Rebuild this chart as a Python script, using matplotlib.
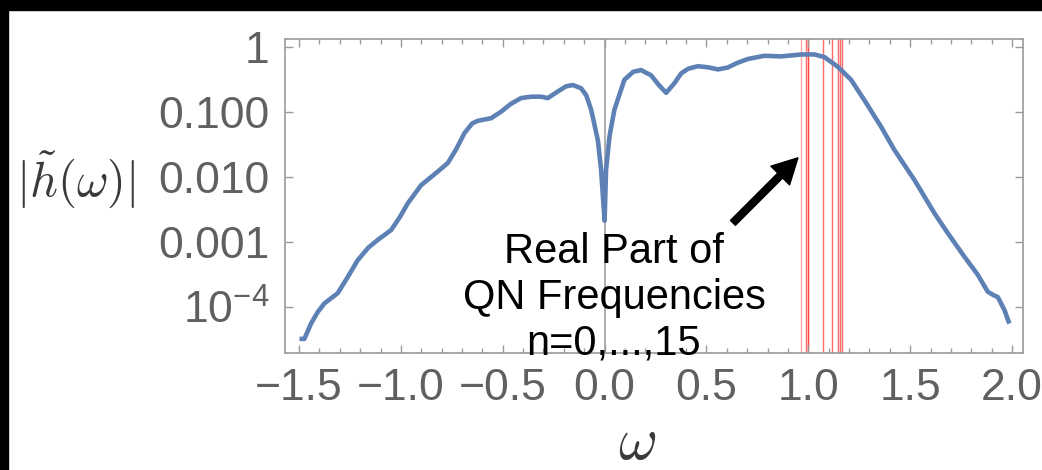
import matplotlib
matplotlib.use("Agg")
import matplotlib.pyplot as plt
from matplotlib.patches import Rectangle
from matplotlib.ticker import FixedLocator, FuncFormatter, MultipleLocator, LogLocator
import numpy as np

# spectrum |h(w)| sampled along the curve
omega = [-1.498, -1.474, -1.440, -1.408, -1.376, -1.310, -1.260, -1.212, -1.160, -1.113,
         -1.048, -1.005, -0.966, -0.901, -0.819, -0.770, -0.730, -0.688, -0.650, -0.622,
         -0.557, -0.508, -0.460, -0.410, -0.360, -0.312, -0.279, -0.230, -0.190, -0.156,
         -0.115, -0.090, -0.066, -0.033, -0.017, -0.006, 0.0, 0.007, 0.024, 0.048,
         0.097, 0.140, 0.179, 0.228, 0.265, 0.302, 0.343, 0.376, 0.410, 0.458,
         0.510, 0.556, 0.605, 0.650, 0.703, 0.784, 0.866, 0.965, 1.030, 1.079,
         1.145, 1.210, 1.275, 1.357, 1.423, 1.521, 1.619, 1.685, 1.766, 1.832,
         1.881, 1.910, 1.930, 1.963, 1.987]
h_abs = [3.2e-5, 3.2e-5, 5.6e-5, 8.3e-5, 1.12e-4, 1.62e-4, 2.9e-4, 5.2e-4, 8.1e-4, 1.07e-3,
         1.51e-3, 2.4e-3, 3.9e-3, 7.4e-3, 0.0120, 0.0162, 0.0260, 0.0468, 0.0660, 0.0724,
         0.0794, 0.100, 0.132, 0.162, 0.170, 0.170, 0.162, 0.204, 0.245, 0.257,
         0.229, 0.178, 0.107, 0.0363, 0.0126, 3.9e-3, 2.1e-3, 0.0126, 0.0417, 0.107,
         0.309, 0.410, 0.437, 0.363, 0.260, 0.195, 0.275, 0.389, 0.457, 0.501,
         0.480, 0.447, 0.479, 0.560, 0.646, 0.724, 0.708, 0.759, 0.759, 0.692,
         0.490, 0.309, 0.151, 0.0589, 0.0257, 8.9e-3, 2.75e-3, 1.35e-3, 5.9e-4, 3.1e-4,
         1.7e-4, 1.50e-4, 1.41e-4, 8.9e-5, 5.5e-5]

# real parts of the quasinormal frequencies, n = 0..15
qn_real = [0.965, 0.989, 0.989, 0.997, 0.997, 0.997, 1.071, 1.071,
           1.115, 1.115, 1.146, 1.146, 1.155, 1.155, 1.165, 1.165]

x_ticks = [-1.5, -1.0, -0.5, 0.0, 0.5, 1.0, 1.5, 2.0]
y_ticks = [1e-4, 1e-3, 1e-2, 1e-1, 1]
y_tick_labels = {1e-4: r"$10^{-4}$", 1e-3: "0.001", 1e-2: "0.010", 1e-1: "0.100", 1: "1"}

plt.rcParams["font.family"] = ["Liberation Sans", "DejaVu Sans"]
plt.rcParams["mathtext.fontset"] = "custom"
plt.rcParams["mathtext.rm"] = "Liberation Sans"
plt.rcParams["mathtext.it"] = "Liberation Sans:italic"
plt.rcParams["mathtext.bf"] = "Liberation Sans:bold"

tick_grey = "#606060"
frame_grey = "#9a9a9a"

fig = plt.figure(figsize=(10.42, 4.70), dpi=100)
ax = fig.add_axes([285 / 1042, 1 - 353 / 470, 738 / 1042, 314 / 470])

ax.axvline(0.0, color="#a8a8a8", lw=1.3, zorder=1)
for w in qn_real:
    ax.axvline(w, color="#ff0000", lw=1.0, alpha=0.35, zorder=1)
ax.plot(omega, h_abs, color="#5E81B5", lw=3.3, solid_joinstyle="round",
        solid_capstyle="butt", zorder=3)

ax.set_yscale("log")
ax.set_xlim(-1.569, 2.054)
ax.set_ylim(10 ** -4.712, 10 ** 0.118)

ax.xaxis.set_major_locator(FixedLocator(x_ticks))
ax.xaxis.set_minor_locator(MultipleLocator(0.1))
ax.xaxis.set_major_formatter(FuncFormatter(lambda v, p: f"{v:.1f}".replace("-", "\u2212")))
ax.yaxis.set_major_locator(FixedLocator(y_ticks))
ax.yaxis.set_minor_locator(LogLocator(base=10, subs=np.arange(2, 10)))
ax.yaxis.set_major_formatter(FuncFormatter(lambda v, p: y_tick_labels.get(v, "")))

for s in ax.spines.values():
    s.set_color(frame_grey)
    s.set_linewidth(1.2)
ax.tick_params(which="both", direction="in", top=True, right=True, color=frame_grey, width=1.0)
ax.tick_params(which="major", length=6)
ax.tick_params(which="minor", length=3.5)
ax.tick_params(axis="both", which="major", labelsize=32, labelcolor=tick_grey)
ax.tick_params(axis="y", which="major", pad=11)
ax.tick_params(axis="x", which="major", pad=11)

fig.text(76 / 1042, 1 - 180 / 470, r"$|\tilde{h}(\omega)|$", fontsize=35,
         ha="center", va="center", color="#3a3a3a", math_fontfamily="cm")
fig.text(637 / 1042, 1 - 459 / 470, r"$\omega$", fontsize=43,
         ha="center", va="baseline", color="#3a3a3a", math_fontfamily="cm")

ax.text(0.4458, 0.175, "Real Part of\nQN Frequencies\nn=0,...,15", transform=ax.transAxes,
        fontsize=30, ha="center", va="center", color="black", linespacing=1.18, zorder=4)
ax.annotate("", xy=(0.949, 10 ** -1.71), xytext=(0.630, 10 ** -2.71),
            arrowprops=dict(facecolor="black", edgecolor="black", width=5,
                            headwidth=19, headlength=18, shrink=0), zorder=4)

# dark strips along the top and left edges
fig.patches.append(Rectangle((0, 1 - 10 / 470), 1, 10 / 470, transform=fig.transFigure,
                             color="black", zorder=10))
fig.patches.append(Rectangle((0, 0), 8 / 1042, 1, transform=fig.transFigure,
                             color="black", zorder=10))

fig.savefig("out.png", dpi=100)
